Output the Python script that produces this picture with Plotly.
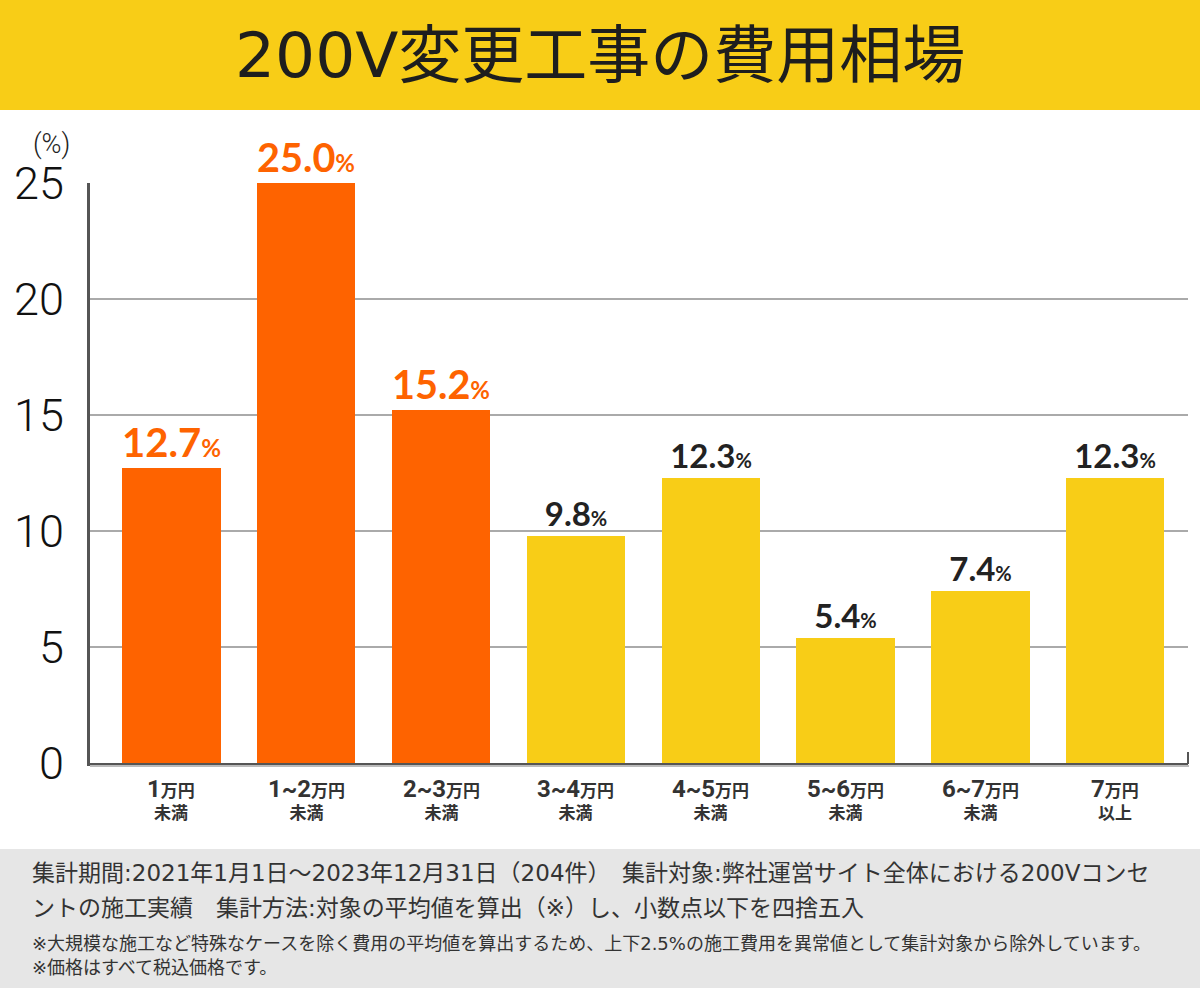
import plotly.graph_objects as go

categories = ["1万円未満", "1~2万円未満", "2~3万円未満", "3~4万円未満",
              "4~5万円未満", "5~6万円未満", "6~7万円未満", "7万円以上"]
tick_nums = ["1", "1~2", "2~3", "3~4", "4~5", "5~6", "6~7", "7"]
tick_sub = ["未満", "未満", "未満", "未満", "未満", "未満", "未満", "以上"]
values = [12.7, 25.0, 15.2, 9.8, 12.3, 5.4, 7.4, 12.3]
highlight = [True, True, True, False, False, False, False, False]
y_ticks = [0, 5, 10, 15, 20, 25]

ORANGE = "#FE6300"
YELLOW = "#F8CD17"
W, H = 1200, 988
L, R, T, B = 90, 12, 183, 225
PW, PH = W - L - R, H - T - B


def px_x(x):
    return (x - L) / PW


def px_y(y):
    return (H - B - y) / PH


JP = "Noto Sans CJK JP"
MIX = "DejaVu Sans, Noto Sans CJK JP"

colors = [ORANGE if h else YELLOW for h in highlight]
texts = []
for v, h in zip(values, highlight):
    if h:
        texts.append(f"<span style='font-size:43px'>{v:.1f}</span>"
                     f"<span style='font-size:26px'>%</span>")
    else:
        texts.append(f"<span style='font-size:33px'>{v:.1f}</span>"
                     f"<span style='font-size:20px'>%</span>")

xs = list(range(len(categories)))
fig = go.Figure(go.Bar(
    x=xs, y=values, marker=dict(color=colors, line=dict(width=0)),
    width=0.73, text=texts, textposition="outside",
    textfont=dict(family="Lato", color=[ORANGE if h else "#222222" for h in highlight],
                  weight="bold"),
    cliponaxis=False, hoverinfo="skip",
))

shapes = [
    dict(type="rect", xref="paper", yref="paper", x0=px_x(0), x1=px_x(W),
         y0=px_y(110), y1=px_y(0), fillcolor=YELLOW, line=dict(width=0), layer="below"),
    dict(type="rect", xref="paper", yref="paper", x0=px_x(0), x1=px_x(W),
         y0=px_y(H), y1=px_y(849), fillcolor="#E6E6E6", line=dict(width=0), layer="below"),
    # bottom axis shadow
    dict(type="line", xref="paper", yref="paper", x0=px_x(90), x1=px_x(1189),
         y0=px_y(766), y1=px_y(766), line=dict(color="#BBBBBB", width=2)),
    # small right tick
    dict(type="line", xref="paper", yref="paper", x0=px_x(1188), x1=px_x(1188),
         y0=px_y(764), y1=px_y(752), line=dict(color="#555555", width=2)),
]

annotations = [
    dict(text="200V変更工事の費用相場", xref="paper", yref="paper",
         x=px_x(600), y=px_y(55), xanchor="center", yanchor="middle", showarrow=False,
         font=dict(family=MIX, size=63, color="#1E1E1E")),
    dict(text="(%)", xref="paper", yref="paper", x=px_x(51), y=px_y(144),
         xanchor="center", yanchor="middle", showarrow=False,
         font=dict(family="Roboto", size=27, color="#222222", weight=300)),
]
for i, (n, s) in enumerate(zip(tick_nums, tick_sub)):
    annotations.append(dict(
        text=f"<b><span style='font-size:24px'>{n}</span>"
             f"<span style='font-size:17px'>万円</span><br>"
             f"<span style='font-size:17px'>{s}</span></b>",
        x=i, y=0, xref="x", yref="y", yshift=-10, xanchor="center", yanchor="top",
        showarrow=False, align="center",
        font=dict(family="Roboto, " + JP, size=17, color="#333333")))

foot_lines = [
    ("集計期間:2021年1月1日～2023年12月31日（204件）　集計対象:弊社運営サイト全体における200Vコンセ", 873, 23),
    ("ントの施工実績　集計方法:対象の平均値を算出（※）し、小数点以下を四捨五入", 908, 23),
    ("※大規模な施工など特殊なケースを除く費用の平均値を算出するため、上下2.5%の施工費用を異常値として集計対象から除外しています。", 943, 18),
    ("※価格はすべて税込価格です。", 967, 18),
]
for t, y, s in foot_lines:
    annotations.append(dict(text=t, xref="paper", yref="paper", x=px_x(30), y=px_y(y),
                            xanchor="left", yanchor="middle", showarrow=False,
                            font=dict(family=MIX, size=s, color="#333333")))

fig.update_layout(
    width=W, height=H, margin=dict(l=L, r=R, t=T, b=B),
    paper_bgcolor="white", plot_bgcolor="white", showlegend=False,
    shapes=shapes, annotations=annotations,
    xaxis=dict(range=[-0.604, 7.54], showticklabels=False, showgrid=False,
               zeroline=False, showline=True, linecolor="#555555", linewidth=3,
               ticks=""),
    yaxis=dict(range=[0, 25], tickvals=y_ticks, ticktext=[str(v) for v in y_ticks],
               showgrid=True, gridcolor="#AAAAAA", gridwidth=1.5, zeroline=False,
               showline=True, linecolor="#555555", linewidth=3, ticks="",
               ticklabelstandoff=14,
               tickfont=dict(family="Roboto", size=45, color="#111111", weight=300)),
    bargap=0,
)

fig.write_html("out.html", config={"displayModeBar": False},
               post_script="document.body.style.margin='0';")
